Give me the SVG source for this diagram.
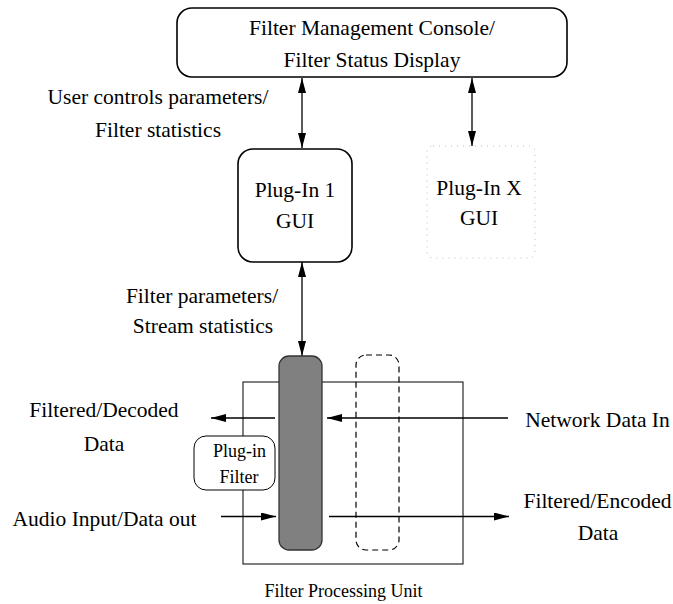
<svg xmlns="http://www.w3.org/2000/svg" width="673" height="604" viewBox="0 0 673 604">
<style>
text{font-family:"Liberation Serif","Times New Roman",serif;fill:#000;}
.t{font-size:21.5px;text-anchor:middle;}
.s{font-size:18px;text-anchor:middle;}
.box{fill:#fff;stroke:#000;stroke-width:1.6;}
.conn{stroke:#000;stroke-width:1.3;fill:none;}
</style>
<defs>
<marker id="ah" markerUnits="userSpaceOnUse" markerWidth="16" markerHeight="10" refX="15" refY="4" orient="auto-start-reverse">
<path d="M0,0 L15,4 L0,8 Z" fill="#000"/>
</marker>
</defs>
<rect width="673" height="604" fill="#fff"/>
<g id="processing-unit">
<rect x="243" y="382" width="220" height="182" fill="none" stroke="#000" stroke-width="1"/>
<text class="s" x="343.5" y="597">Filter Processing Unit</text>
</g>
<g id="connectors">
<line class="conn" x1="302" y1="78" x2="302" y2="148" marker-start="url(#ah)" marker-end="url(#ah)"/>
<line class="conn" x1="472" y1="78" x2="472" y2="146" marker-start="url(#ah)" marker-end="url(#ah)"/>
<line class="conn" x1="302" y1="262" x2="302" y2="356" marker-start="url(#ah)" marker-end="url(#ah)"/>
<line class="conn" x1="508" y1="418" x2="327" y2="418" marker-end="url(#ah)"/>
<line class="conn" x1="275" y1="418" x2="211" y2="418" marker-end="url(#ah)"/>
<line class="conn" x1="221" y1="516.5" x2="276" y2="516.5" marker-end="url(#ah)"/>
<line class="conn" x1="329" y1="516.5" x2="509" y2="516.5" marker-end="url(#ah)"/>
</g>
<g id="console">
<rect class="box" x="177" y="8" width="390" height="69" rx="15"/>
<text class="t" x="372" y="35">Filter Management Console/</text>
<text class="t" x="372" y="67">Filter Status Display</text>
</g>
<g id="plugin1-gui">
<rect class="box" x="238" y="149" width="114" height="113" rx="15"/>
<text class="t" x="295" y="197">Plug-In 1</text>
<text class="t" x="295" y="228">GUI</text>
</g>
<g id="pluginx-gui">
<rect x="427" y="146" width="108" height="112" rx="6" fill="none" stroke="#bbb" stroke-width="1" stroke-dasharray="1,5"/>
<text class="t" x="479" y="195">Plug-In X</text>
<text class="t" x="479" y="225">GUI</text>
</g>
<g id="filter-bar">
<rect x="279" y="356" width="43" height="194" rx="10" fill="#808080" stroke="#333" stroke-width="1.3"/>
</g>
<g id="filter-bar-x">
<rect x="356" y="355" width="43" height="195" rx="10" fill="none" stroke="#000" stroke-width="1.2" stroke-dasharray="6,4"/>
</g>
<g id="plugin-filter">
<rect x="194" y="436" width="81" height="54" rx="12" fill="#fff" stroke="#000" stroke-width="1"/>
<text class="s" x="239.5" y="457">Plug-in</text>
<text class="s" x="239" y="483">Filter</text>
</g>
<g id="labels">
<text class="t" x="158" y="104">User controls parameters/</text>
<text class="t" x="158" y="137">Filter statistics</text>
<text class="t" x="202" y="303">Filter parameters/</text>
<text class="t" x="203" y="333">Stream statistics</text>
<text class="t" x="104" y="417">Filtered/Decoded</text>
<text class="t" x="104" y="451">Data</text>
<text class="t" x="104.5" y="525.5">Audio Input/Data out</text>
<text class="t" x="597.5" y="427">Network Data In</text>
<text class="t" x="597.5" y="508">Filtered/Encoded</text>
<text class="t" x="598" y="540">Data</text>
</g>
</svg>
